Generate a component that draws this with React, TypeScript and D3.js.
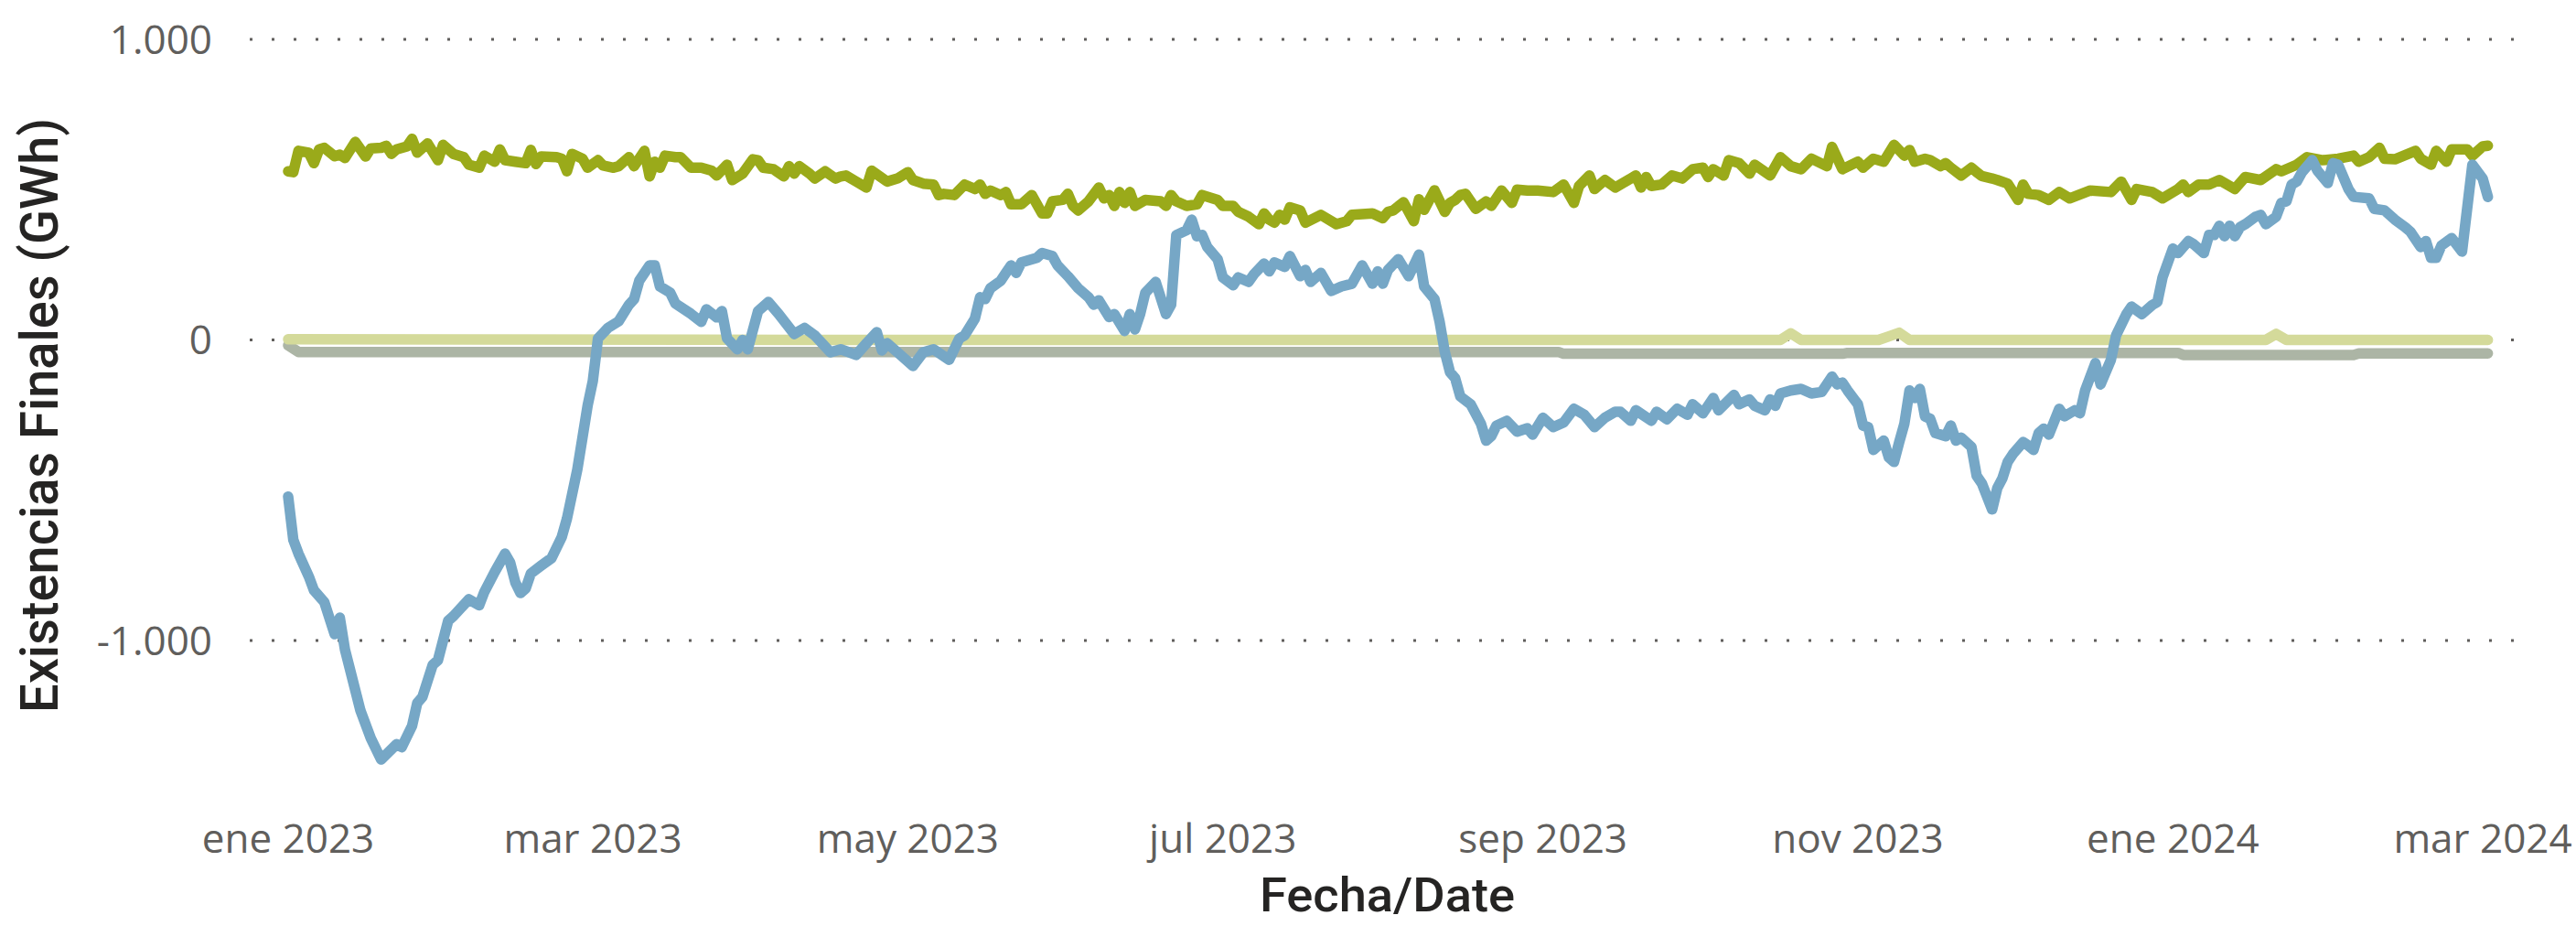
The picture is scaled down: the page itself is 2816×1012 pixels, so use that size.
import React from "react";
import * as d3 from "d3";

// ---- data (day offset from START, value in GWh) ----
const START = "2023-01-01";

const blueSeries: [number, number][] = [
  [0,-521],[1,-665],[2,-711],[4,-787],[5,-833],[7,-872],[9,-979],[10,-924],[11,-1030],[14,-1233],[16,-1325],[18,-1396],[21,-1345],[22,-1355],[24,-1284],[25,-1208],[26,-1188],[28,-1081],[29,-1066],[30,-1000],[31,-934],[32,-919],[35,-863],[37,-883],[38,-838],[40,-772],[42,-711],[43,-741],[44,-807],[45,-842],[46,-827],[47,-777],[49,-751],[51,-726],[53,-655],[54,-594],[56,-431],[57,-325],[58,-218],[59,-137],[60,5],[62,41],[64,62],[66,117],[67,136],[68,197],[70,248],[71,248],[72,178],[74,157],[75,121],[78,87],[80,60],[81,102],[83,75],[84,96],[85,5],[87,-31],[88,0],[89,-31],[91,96],[93,126],[95,86],[98,20],[100,40],[102,15],[105,-41],[107,-31],[110,-50],[112,-11],[114,26],[115,-35],[116,-11],[118,-41],[121,-87],[123,-41],[125,-31],[128,-66],[130,5],[131,15],[133,71],[134,142],[135,136],[136,172],[138,197],[139,223],[140,248],[141,223],[142,258],[145,273],[146,289],[148,279],[149,248],[151,212],[153,172],[155,142],[156,117],[157,132],[159,76],[160,86],[162,30],[163,86],[164,35],[165,86],[166,157],[168,193],[170,86],[171,117],[172,349],[174,365],[175,400],[176,345],[177,349],[178,309],[180,269],[181,208],[183,182],[184,208],[186,193],[187,218],[189,254],[190,228],[191,258],[193,243],[194,279],[196,212],[197,233],[198,193],[200,223],[202,163],[204,178],[206,187],[208,248],[210,187],[211,228],[212,187],[213,233],[215,269],[217,212],[219,284],[220,178],[222,136],[223,60],[224,-40],[225,-107],[226,-127],[227,-188],[229,-214],[231,-279],[232,-335],[233,-320],[234,-285],[236,-269],[238,-305],[240,-294],[241,-315],[243,-259],[245,-290],[247,-275],[249,-229],[251,-249],[253,-290],[255,-259],[257,-239],[258,-239],[260,-269],[261,-234],[264,-269],[265,-239],[267,-264],[269,-229],[271,-249],[272,-214],[274,-244],[276,-193],[277,-234],[280,-183],[281,-214],[283,-198],[284,-219],[286,-234],[287,-198],[288,-219],[289,-178],[291,-168],[293,-163],[295,-178],[297,-173],[299,-122],[300,-148],[301,-142],[302,-168],[304,-214],[305,-285],[306,-290],[307,-366],[309,-335],[310,-391],[311,-406],[312,-340],[313,-279],[314,-168],[315,-193],[316,-163],[317,-255],[318,-262],[319,-310],[321,-320],[322,-285],[323,-335],[324,-325],[326,-356],[327,-452],[328,-477],[330,-564],[331,-493],[332,-460],[333,-406],[334,-380],[336,-340],[337,-351],[338,-366],[339,-310],[340,-295],[341,-315],[343,-229],[344,-254],[346,-234],[347,-244],[348,-168],[350,-77],[351,-148],[353,-66],[354,15],[356,86],[357,111],[359,86],[361,116],[362,126],[363,208],[365,304],[366,289],[368,329],[369,319],[371,289],[372,349],[373,349],[374,380],[375,345],[376,380],[377,345],[378,375],[379,385],[381,410],[382,416],[383,385],[385,410],[386,456],[387,461],[388,517],[389,527],[390,558],[392,598],[393,563],[395,522],[396,588],[397,583],[399,502],[400,476],[403,471],[404,436],[406,431],[408,400],[410,375],[411,360],[413,309],[414,329],[415,273],[416,273],[417,314],[419,339],[421,294],[423,583],[425,537],[426,476]
];

const greenSeries: [number, number][] = [
  [0,561],[1,558],[2,629],[4,623],[5,588],[6,634],[7,639],[9,611],[10,616],[11,605],[13,659],[15,610],[16,637],[18,639],[19,646],[20,619],[21,634],[23,644],[24,669],[25,623],[27,654],[29,598],[30,649],[32,619],[34,608],[35,583],[37,573],[38,613],[40,593],[41,634],[42,598],[44,593],[46,588],[47,632],[48,585],[49,610],[52,608],[53,603],[54,561],[55,619],[57,603],[58,573],[60,598],[61,580],[63,573],[64,578],[66,608],[67,578],[69,629],[70,544],[71,593],[72,573],[73,613],[75,608],[76,608],[78,573],[80,573],[82,563],[83,547],[85,583],[86,532],[88,553],[90,601],[91,598],[92,573],[94,568],[96,544],[97,578],[98,553],[99,578],[101,553],[102,537],[104,561],[106,537],[107,544],[108,547],[110,527],[112,507],[113,563],[116,527],[118,537],[120,558],[121,532],[123,520],[125,517],[126,482],[127,486],[129,482],[131,517],[133,502],[134,517],[135,486],[136,497],[138,482],[139,492],[140,451],[142,451],[144,482],[146,421],[147,421],[148,461],[150,466],[151,486],[152,446],[153,431],[155,461],[157,507],[158,471],[159,482],[160,446],[161,492],[162,456],[163,492],[164,446],[166,466],[169,461],[170,446],[171,482],[172,461],[174,446],[176,451],[177,482],[180,466],[181,446],[183,446],[184,426],[186,410],[188,385],[189,421],[190,400],[191,390],[192,416],[193,400],[194,441],[196,431],[197,390],[200,416],[203,385],[205,395],[206,416],[210,421],[212,405],[213,426],[214,431],[216,458],[218,395],[219,468],[220,433],[222,498],[224,426],[225,456],[226,466],[227,482],[228,486],[230,436],[232,461],[233,446],[235,497],[237,456],[238,500],[240,497],[242,497],[245,492],[247,517],[249,456],[250,512],[252,547],[253,502],[255,532],[257,507],[261,547],[262,507],[263,542],[264,512],[266,517],[268,547],[270,537],[272,568],[274,573],[275,542],[276,568],[278,547],[279,598],[281,588],[283,553],[284,583],[287,547],[289,608],[291,578],[293,568],[295,603],[298,578],[299,642],[301,568],[304,593],[305,573],[307,603],[309,593],[311,649],[313,613],[314,632],[315,593],[317,603],[318,598],[320,578],[321,588],[322,573],[324,547],[326,573],[327,558],[328,545],[330,537],[331,532],[333,520],[335,466],[336,517],[337,486],[339,482],[341,466],[343,492],[345,471],[349,497],[353,492],[355,527],[357,466],[358,502],[361,492],[363,471],[366,502],[367,517],[368,492],[370,517],[372,517],[374,532],[377,502],[379,542],[382,532],[385,568],[386,561],[389,583],[391,608],[394,598],[397,603],[400,613],[401,593],[403,608],[405,639],[406,603],[408,601],[412,629],[413,603],[415,583],[416,629],[418,593],[419,634],[422,634],[423,613],[425,644],[426,646]
];

const yellowSeries: [number, number][] = [
  [0,2],[100,0],[200,0],[289,0],[291,22],[293,0],[308,0],[310,12],[312,24],[314,0],[383,0],[385,20],[387,0],[426,0]
];

const graySeries: [number, number][] = [
  [0,-18],[2,-40],[246,-40],[247,-46],[301,-46],[302,-43],[366,-43],[367,-50],[400,-50],[401,-45],[426,-45]
];

const yTicks = [-1000, 0, 1000];
const xTickDates = ["2023-01-01", "2023-03-01", "2023-05-01", "2023-07-01", "2023-09-01", "2023-11-01", "2024-01-01", "2024-03-01"];
const xTickLabels = ["ene 2023", "mar 2023", "may 2023", "jul 2023", "sep 2023", "nov 2023", "ene 2024", "mar 2024"];
const yTitle = "Existencias Finales (GWh)";
const xTitle = "Fecha/Date";

const W = 2816;
const H = 1012;

const utc = (s: string) => new Date(s + "T00:00:00Z");

export default function App() {
  const start = utc(START);
  const toDate = (d: number) => d3.utcDay.offset(start, d);
  const x = d3.scaleUtc().domain([start, utc("2024-03-01")]).range([315, 2714]);
  const y = d3.scaleLinear().domain([-1000, 1000]).range([700, 43]);
  const line = d3
    .line<[number, number]>()
    .x((p) => x(toDate(p[0])))
    .y((p) => y(p[1]));
  const fmt = d3
    .formatLocale({ decimal: ",", thousands: ".", grouping: [3], currency: ["", "€"], minus: "-" })
    .format(",");

  const series = [
    { data: graySeries, color: "#ACB5A5" },
    { data: yellowSeries, color: "#D4DA9A" },
    { data: greenSeries, color: "#9AAA1A" },
    { data: blueSeries, color: "#76A7C6" },
  ];

  return (
    <svg
      width={W}
      height={H}
      style={{ display: "block", position: "absolute", left: 0, top: 0, background: "#fff" }}
    >
      <rect x={0} y={0} width={W} height={H} fill="#fff" />
      {yTicks.map((t) => (
        <g key={t}>
          <line
            x1={273}
            x2={2752}
            y1={y(t)}
            y2={y(t)}
            stroke="#605E5C"
            strokeWidth={3}
            strokeDasharray="3 21"
          />
          <text
            x={232}
            y={y(t) + 15.5}
            textAnchor="end"
            fontFamily="'Open Sans', sans-serif"
            fontSize={44}
            fill="#605E5C"
          >
            {fmt(t)}
          </text>
        </g>
      ))}
      {xTickDates.map((d, i) => (
        <text
          key={d}
          x={x(utc(d))}
          y={931.5}
          textAnchor="middle"
          fontFamily="'Open Sans', sans-serif"
          fontSize={44}
          fill="#605E5C"
        >
          {xTickLabels[i]}
        </text>
      ))}
      {series.map((s, i) => (
        <path
          key={i}
          d={line(s.data) || ""}
          fill="none"
          stroke={s.color}
          strokeWidth={11.5}
          strokeLinejoin="round"
          strokeLinecap="round"
        />
      ))}
      <text
        transform="translate(63,454) rotate(-90)"
        textAnchor="middle"
        fontFamily="Roboto, sans-serif"
        fontWeight={500}
        fontSize={57}
        fill="#252423"
        textLength={650}
        lengthAdjust="spacingAndGlyphs"
      >
        {yTitle}
      </text>
      <text
        x={1516.5}
        y={996}
        textAnchor="middle"
        fontFamily="Roboto, sans-serif"
        fontWeight={500}
        fontSize={52}
        fill="#252423"
        textLength={279}
        lengthAdjust="spacingAndGlyphs"
      >
        {xTitle}
      </text>
    </svg>
  );
}
